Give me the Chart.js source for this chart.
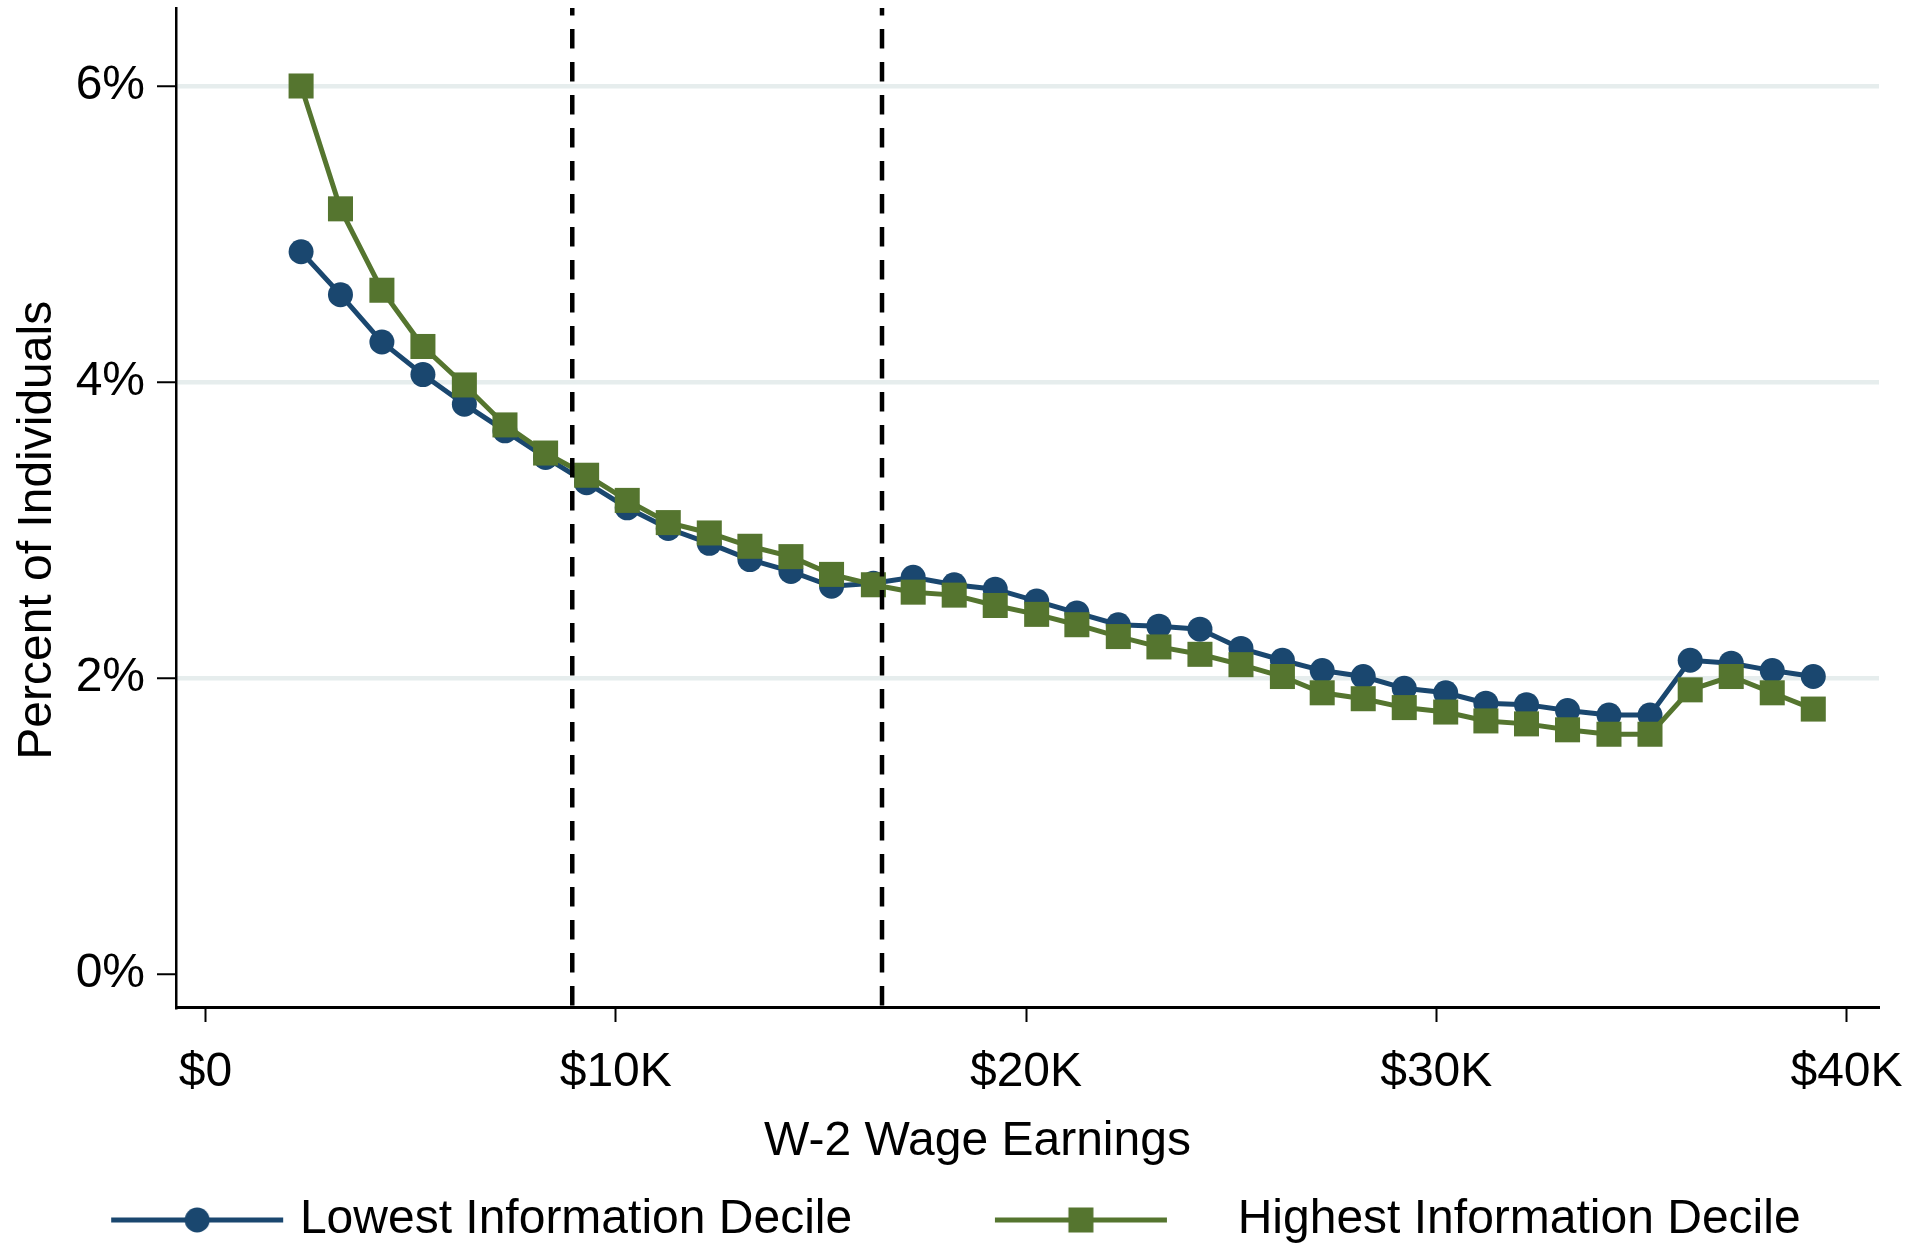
<!DOCTYPE html>
<html>
<head>
<meta charset="utf-8">
<script src="https://cdn.jsdelivr.net/npm/chart.js@4/dist/chart.umd.min.js"></script>
<style>
html, body { margin: 0; padding: 0; background: #ffffff; overflow: hidden; }
#wrap { width: 1918px; height: 1248px; position: relative; }
canvas { display: block; }
</style>
</head>
<body>
<div id="wrap"><canvas id="c" width="1918" height="1248"></canvas></div>
<script>
// ---------------- data ----------------
const wageEarnings = [2330, 3290, 4300, 5300, 6310, 7300, 8290, 9290, 10280, 11280,
  12280, 13270, 14270, 15260, 16280, 17250, 18250, 19250, 20260, 21240,
  22250, 23240, 24240, 25240, 26250, 27220, 28220, 29220, 30230, 31210,
  32200, 33200, 34210, 35210, 36190, 37190, 38190, 39190];
const lowestInfoDecile = [4.88, 4.59, 4.27, 4.05, 3.85, 3.67, 3.49, 3.32, 3.15, 3.01,
  2.91, 2.80, 2.72, 2.62, 2.64, 2.68, 2.63, 2.60, 2.52, 2.44,
  2.36, 2.35, 2.33, 2.20, 2.12, 2.05, 2.01, 1.93, 1.90, 1.83,
  1.82, 1.78, 1.75, 1.75, 2.12, 2.10, 2.05, 2.01];
const highestInfoDecile = [6.00, 5.17, 4.62, 4.24, 3.98, 3.71, 3.52, 3.37, 3.20, 3.05,
  2.98, 2.89, 2.82, 2.70, 2.63, 2.58, 2.56, 2.49, 2.43, 2.36,
  2.28, 2.21, 2.16, 2.09, 2.01, 1.90, 1.86, 1.80, 1.77, 1.71,
  1.69, 1.65, 1.62, 1.62, 1.92, 2.01, 1.90, 1.79];
const seriesLabels = ['Lowest Information Decile', 'Highest Information Decile'];
const kinkLines = [8940, 16490];
const xTickValues = [0, 10000, 20000, 30000, 40000];
const xTickLabels = ['$0', '$10K', '$20K', '$30K', '$40K'];
const yTickValues = [0, 2, 4, 6];
const yTickLabels = ['0%', '2%', '4%', '6%'];
const xRange = [-719, 40792];
const yRange = [-0.223, 6.527];
const xTitle = 'W-2 Wage Earnings';
const yTitle = 'Percent of Individuals';

// ---------------- styles ----------------
const FONT = "'Liberation Sans', Arial, Helvetica, sans-serif";
const BLUE = '#1a476f';
const GREEN = '#55752f';
const GRID = '#e6eded';

function shiftTitle(scale, dx, dy) {
  if (scale.__shifted) return;
  const orig = scale.drawTitle;
  scale.drawTitle = function () {
    const c = this.ctx;
    c.save();
    c.translate(dx, dy);
    orig.call(this);
    c.restore();
  };
  scale.__shifted = true;
}

function makeIcon(color, style, offset) {
  const W = Math.round(2 * (Math.abs(offset) + 92));
  const H = 34;
  const cv = document.createElement('canvas');
  cv.width = W; cv.height = H;
  const g = cv.getContext('2d');
  const cx = W / 2 + offset;
  g.strokeStyle = color;
  g.lineWidth = 5;
  g.beginPath();
  g.moveTo(cx - 86, H / 2);
  g.lineTo(cx + 86, H / 2);
  g.stroke();
  g.fillStyle = color;
  if (style === 'circle') {
    g.beginPath();
    g.arc(cx, H / 2, 12.5, 0, Math.PI * 2);
    g.fill();
  } else {
    g.fillRect(cx - 12.5, H / 2 - 12.5, 25, 25);
  }
  return cv;
}
const legendIcons = [makeIcon(BLUE, 'circle', 20), makeIcon(GREEN, 'rect', 126)];
const legendTexts = [seriesLabels[0], '            ' + seriesLabels[1]];

const datasets = [
  {
    label: seriesLabels[0],
    data: wageEarnings.map((x, i) => ({ x: x, y: lowestInfoDecile[i] })),
    borderColor: BLUE, backgroundColor: BLUE,
    borderWidth: 5,
    pointStyle: 'circle', pointRadius: 12.5, pointHoverRadius: 12.5,
    pointBackgroundColor: BLUE, pointBorderWidth: 0,
    tension: 0, order: 2
  },
  {
    label: seriesLabels[1],
    data: wageEarnings.map((x, i) => ({ x: x, y: highestInfoDecile[i] })),
    borderColor: GREEN, backgroundColor: GREEN,
    borderWidth: 5,
    pointStyle: 'rect', pointRadius: 17.7, pointHoverRadius: 17.7,
    pointBackgroundColor: GREEN, pointBorderWidth: 0,
    tension: 0, order: 1
  }
];
kinkLines.forEach(k => {
  datasets.push({
    label: 'kink',
    data: [{ x: k, y: yRange[1] }, { x: k, y: yRange[0] }],
    borderColor: '#000000',
    borderWidth: 4.5,
    borderDash: [19.3, 13.7],
    borderDashOffset: 11.9,
    pointRadius: 0, pointHoverRadius: 0,
    tension: 0, order: 0
  });
});

new Chart(document.getElementById('c'), {
  type: 'line',
  data: { datasets: datasets },
  options: {
    responsive: false,
    devicePixelRatio: 1,
    animation: false,
    events: [],
    layout: { autoPadding: false, padding: { left: 0, right: 39, top: 8, bottom: -6 } },
    plugins: {
      tooltip: { enabled: false },
      title: { display: false },
      legend: {
        display: true,
        position: 'bottom',
        align: 'center',
        labels: {
          usePointStyle: true,
          pointStyleWidth: 197.5,
          padding: 4,
          color: '#000000',
          font: { family: FONT, size: 48 },
          generateLabels: () => [0, 1].map(i => ({
            text: legendTexts[i],
            pointStyle: legendIcons[i],
            datasetIndex: i,
            hidden: false,
            lineWidth: 0,
            fillStyle: 'rgba(0,0,0,0)',
            strokeStyle: 'rgba(0,0,0,0)',
            fontColor: '#000000'
          }))
        }
      }
    },
    scales: {
      x: {
        type: 'linear',
        position: 'bottom',
        min: xRange[0], max: xRange[1],
        afterBuildTicks: s => { s.ticks = xTickValues.map(v => ({ value: v })); },
        afterFit: s => { s.height = 185; s.paddingLeft = 0; s.paddingRight = 0; shiftTitle(s, -50, 0); },
        ticks: {
          autoSkip: false, maxRotation: 0, minRotation: 0,
          padding: 22,
          color: '#000000',
          font: { family: FONT, size: 48 },
          callback: (v) => { const i = xTickValues.indexOf(v); return i >= 0 ? xTickLabels[i] : ''; }
        },
        grid: {
          display: true, drawOnChartArea: false, drawTicks: true,
          tickLength: 15, tickColor: '#000000', tickWidth: 2
        },
        border: { display: true, color: '#000000', width: 3 },
        title: {
          display: true, text: xTitle, color: '#000000',
          font: { family: FONT, size: 48 },
          padding: { top: 0, bottom: 21.7 }
        }
      },
      y: {
        type: 'linear',
        position: 'left',
        min: yRange[0], max: yRange[1],
        afterBuildTicks: s => { s.ticks = yTickValues.map(v => ({ value: v })); },
        afterFit: s => { s.width = 176; s.paddingTop = 0; s.paddingBottom = 0; shiftTitle(s, 0, 22.8); },
        ticks: {
          autoSkip: false,
          padding: 12,
          color: '#000000',
          font: { family: FONT, size: 48 },
          callback: (v) => { const i = yTickValues.indexOf(v); return i >= 0 ? yTickLabels[i] : ''; }
        },
        grid: {
          display: true, drawOnChartArea: true, drawTicks: true,
          color: (ctx) => (ctx.tick && ctx.tick.value === 0) ? 'rgba(0,0,0,0)' : GRID,
          lineWidth: 4.5,
          tickLength: 19, tickColor: '#000000', tickWidth: 2
        },
        border: { display: true, color: '#000000', width: 2.5 },
        title: {
          display: true, text: yTitle, color: '#000000',
          font: { family: FONT, size: 48 },
          padding: { top: 9, bottom: 0 }
        }
      }
    }
  }
});
</script>
</body>
</html>
